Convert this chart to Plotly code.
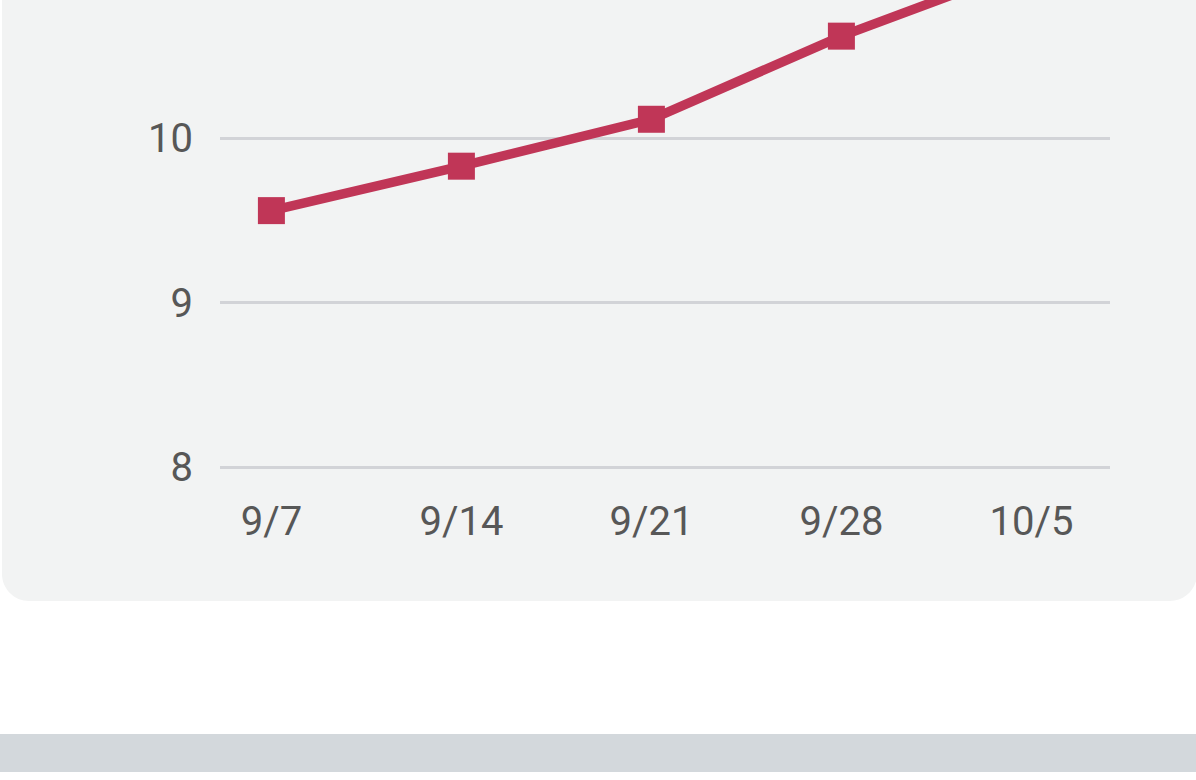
import plotly.graph_objects as go

# ---- data ----
dates = ["9/7", "9/14", "9/21", "9/28", "10/5"]
values = [9.56, 9.83, 10.115, 10.62, 11.05]
y_ticks = [8, 9, 10]

# ---- layout geometry (pixels) ----
W, H = 1196, 780
L, R, T, B = 220, 86, 0, 300
PW, PH = W - L - R, H - T - B

def px(x):
    return (x - L) / PW

def py(y):
    return (H - B - y) / PH

line_color = "#c03657"
panel_color = "#f2f3f3"
band_color = "#d3d8dc"
text_color = "#575757"
grid_color = "#d2d3d7"

# rounded panel path (bottom corners rounded, top beyond view)
x0, x1, ytop, ybot, rad = 2, 1197, -60, 601, 27
k = 0.5523 * rad
panel_path = (
    f"M {px(x0)},{py(ytop)} "
    f"L {px(x1)},{py(ytop)} "
    f"L {px(x1)},{py(ybot - rad)} "
    f"C {px(x1)},{py(ybot - rad + k)} {px(x1 - rad + k)},{py(ybot)} {px(x1 - rad)},{py(ybot)} "
    f"L {px(x0 + rad)},{py(ybot)} "
    f"C {px(x0 + rad - k)},{py(ybot)} {px(x0)},{py(ybot - rad + k)} {px(x0)},{py(ybot - rad)} "
    "Z"
)

fig = go.Figure()
fig.add_trace(go.Scatter(
    x=dates, y=values, mode="lines+markers",
    line=dict(color=line_color, width=9.5),
    marker=dict(symbol="square", size=27, color=line_color),
    cliponaxis=True, hoverinfo="skip",
))

# axis ranges derived from pixel layout of the reference
y_px_10, px_per_unit = 138.2, 164.6
y_top = 10 + (y_px_10 - 0) / px_per_unit
y_bot = 10 - (PH - y_px_10) / px_per_unit
cat_px0, cat_step = 271.4, 190.0
x_lo = (L - cat_px0) / cat_step
x_hi = (L + PW - cat_px0) / cat_step

fig.update_layout(
    width=W, height=H, autosize=False,
    margin=dict(l=L, r=R, t=T, b=B, pad=0),
    paper_bgcolor="white", plot_bgcolor="rgba(0,0,0,0)",
    showlegend=False,
    font=dict(family="Roboto, Noto Sans, sans-serif", size=40, color=text_color),
    shapes=[
        dict(type="path", xref="paper", yref="paper", path=panel_path,
             fillcolor=panel_color, line=dict(width=0), layer="below"),
        dict(type="rect", xref="paper", yref="paper",
             x0=px(-5), x1=px(W + 5), y0=py(772), y1=py(734),
             fillcolor=band_color, line=dict(width=0), layer="below"),
    ],
    xaxis=dict(
        type="category", range=[x_lo, x_hi],
        showgrid=False, zeroline=False, showline=False, ticks="",
        tickfont=dict(size=40, color=text_color),
        ticklabelstandoff=14, fixedrange=True,
    ),
    yaxis=dict(
        range=[y_bot, y_top], tickvals=y_ticks, ticktext=[str(v) for v in y_ticks],
        showgrid=True, gridcolor=grid_color, gridwidth=3,
        zeroline=False, showline=False, ticks="",
        tickfont=dict(size=40, color=text_color),
        ticklabelstandoff=26, fixedrange=True,
    ),
)

fig.write_html(
    "out.html",
    config=dict(displayModeBar=False),
    post_script="document.body.style.margin='0';document.body.style.overflow='hidden';",
)
